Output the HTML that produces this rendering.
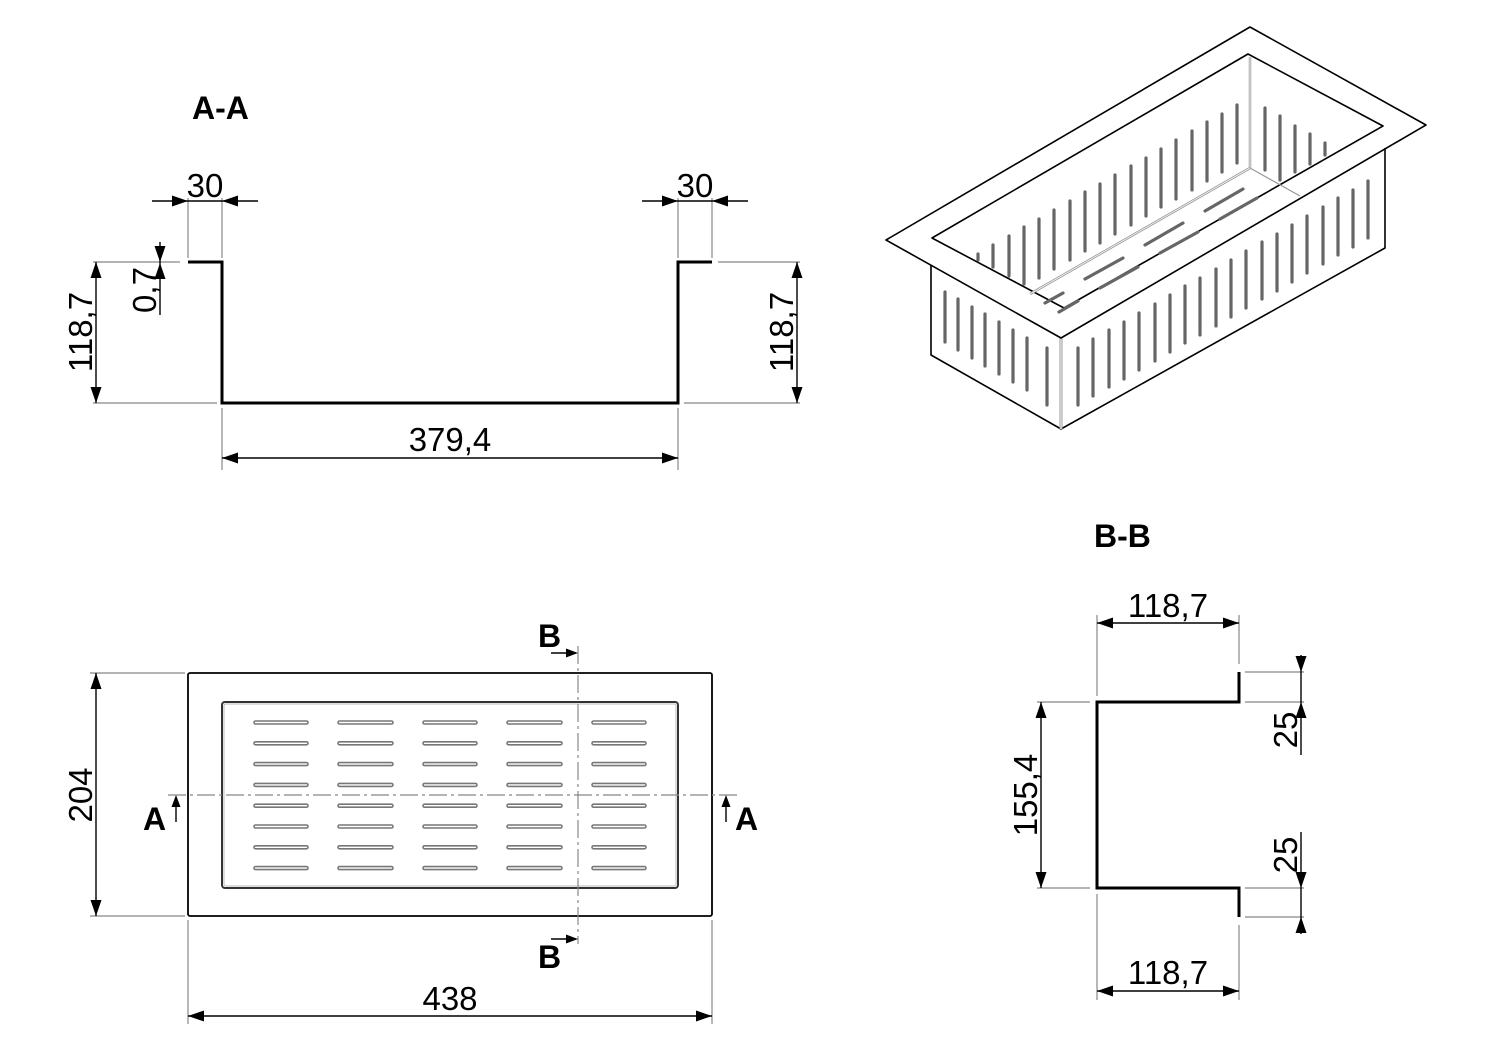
<!DOCTYPE html>
<html><head><meta charset="utf-8"><style>
html,body{margin:0;padding:0;background:#fff}
svg{display:block}
text{font-family:"Liberation Sans",Arial,sans-serif;fill:#000}
.t{font-size:33px}
.b{font-size:32px;font-weight:bold}
.ext{stroke:#888;stroke-width:1.2;fill:none}
.dim{stroke:#000;stroke-width:1.4;fill:none}
.prof{stroke:#000;stroke-width:3;fill:none}
.slot{stroke:#666;stroke-width:3.2;stroke-linecap:round}
.iso{stroke:#000;stroke-width:1.6;fill:none;stroke-linejoin:round}
.cl{stroke:#888;stroke-width:1.2;stroke-dasharray:18,4,3,4;fill:none}
</style></head><body>
<svg width="1500" height="1050" viewBox="0 0 1500 1050" xmlns="http://www.w3.org/2000/svg">
<defs>
<path id="ar" d="M0,0 L-16,-5.5 L-16,5.5 Z" fill="#000"/>
<path id="as" d="M0,0 L-12,-4.5 L-12,4.5 Z" fill="#000"/>
</defs>

<!-- ===== A-A ===== -->
<text class="b" x="192" y="119">A-A</text>
<path class="prof" d="M188,262 H222 V403 H678 V262 H712"/>
<line class="ext" x1="188" y1="198" x2="188" y2="258"/>
<line class="ext" x1="222" y1="198" x2="222" y2="258"/>
<line class="dim" x1="152" y1="201" x2="258" y2="201"/>
<text class="t" x="205" y="197" text-anchor="middle">30</text>
<line class="ext" x1="678" y1="198" x2="678" y2="258"/>
<line class="ext" x1="712" y1="198" x2="712" y2="258"/>
<line class="dim" x1="642" y1="201" x2="748" y2="201"/>
<text class="t" x="695" y="197" text-anchor="middle">30</text>
<line class="ext" x1="93" y1="262" x2="180" y2="262"/>
<line class="ext" x1="93" y1="403" x2="217" y2="403"/>
<line class="ext" x1="222" y1="408" x2="222" y2="470"/>
<line class="ext" x1="678" y1="408" x2="678" y2="470"/>
<line class="dim" x1="96" y1="262" x2="96" y2="403"/>
<text class="t" transform="translate(92,332) rotate(-90)" text-anchor="middle">118,7</text>
<line class="dim" x1="160" y1="242" x2="160" y2="315"/>
<text class="t" transform="translate(156,290) rotate(-90)" text-anchor="middle">0,7</text>
<line class="ext" x1="718" y1="262" x2="800" y2="262"/>
<line class="ext" x1="684" y1="403" x2="800" y2="403"/>
<line class="dim" x1="797" y1="262" x2="797" y2="403"/>
<text class="t" transform="translate(793,332) rotate(-90)" text-anchor="middle">118,7</text>
<line class="dim" x1="222" y1="458" x2="678" y2="458"/>
<text class="t" x="450" y="451" text-anchor="middle">379,4</text>

<!-- ===== Plan view ===== -->
<rect x="188" y="673" width="524" height="243" rx="2" fill="none" stroke="#000" stroke-width="1.8"/>
<rect x="222" y="702" width="456" height="186" rx="3" fill="none" stroke="#333" stroke-width="2"/>
<rect x="224" y="704" width="452" height="182" rx="2" fill="none" stroke="#bbb" stroke-width="1"/>
<g fill="none" stroke="#777" stroke-width="1.6">
<g id="row">
<rect x="254" y="721" width="54" height="3" rx="1.5"/>
<rect x="338" y="721" width="55" height="3" rx="1.5"/>
<rect x="423" y="721" width="54" height="3" rx="1.5"/>
<rect x="507" y="721" width="55" height="3" rx="1.5"/>
<rect x="592" y="721" width="54" height="3" rx="1.5"/>
</g>
<use href="#row" y="20.8"/><use href="#row" y="41.6"/><use href="#row" y="62.4"/>
<use href="#row" y="83.2"/><use href="#row" y="104"/><use href="#row" y="124.8"/><use href="#row" y="145.6"/>
</g>
<line class="cl" x1="168" y1="795" x2="740" y2="795"/>
<line class="cl" x1="578" y1="646" x2="578" y2="944"/>
<line class="dim" x1="176" y1="822" x2="176" y2="800"/>
<text class="b" x="143" y="830">A</text>
<line class="dim" x1="726" y1="822" x2="726" y2="800"/>
<text class="b" x="735" y="830">A</text>
<line class="dim" x1="551" y1="653" x2="572" y2="653"/>
<text class="b" x="538" y="647">B</text>
<line class="dim" x1="551" y1="939" x2="572" y2="939"/>
<text class="b" x="538" y="968">B</text>
<line class="ext" x1="90" y1="673" x2="185" y2="673"/>
<line class="ext" x1="90" y1="916" x2="185" y2="916"/>
<line class="dim" x1="96" y1="673" x2="96" y2="916"/>
<text class="t" transform="translate(92,795) rotate(-90)" text-anchor="middle">204</text>
<line class="ext" x1="188" y1="920" x2="188" y2="1024"/>
<line class="ext" x1="712" y1="920" x2="712" y2="1024"/>
<line class="dim" x1="188" y1="1016" x2="712" y2="1016"/>
<text class="t" x="450" y="1010" text-anchor="middle">438</text>

<!-- ===== B-B ===== -->
<text class="b" x="1094" y="547">B-B</text>
<path class="prof" d="M1239,672 V702 H1097 V888 H1239 V917"/>
<line class="ext" x1="1097" y1="615" x2="1097" y2="696"/>
<line class="ext" x1="1239" y1="615" x2="1239" y2="664"/>
<line class="ext" x1="1097" y1="894" x2="1097" y2="1000"/>
<line class="ext" x1="1239" y1="925" x2="1239" y2="1000"/>
<line class="dim" x1="1097" y1="623" x2="1239" y2="623"/>
<text class="t" x="1168" y="617" text-anchor="middle">118,7</text>
<line class="dim" x1="1097" y1="991" x2="1239" y2="991"/>
<text class="t" x="1168" y="984" text-anchor="middle">118,7</text>
<line class="ext" x1="1037" y1="702" x2="1090" y2="702"/>
<line class="ext" x1="1037" y1="888" x2="1090" y2="888"/>
<line class="dim" x1="1041" y1="702" x2="1041" y2="888"/>
<text class="t" transform="translate(1037,795) rotate(-90)" text-anchor="middle">155,4</text>
<line class="ext" x1="1245" y1="672" x2="1304" y2="672"/>
<line class="ext" x1="1245" y1="702" x2="1304" y2="702"/>
<line class="ext" x1="1245" y1="888" x2="1304" y2="888"/>
<line class="ext" x1="1245" y1="917" x2="1304" y2="917"/>
<line class="dim" x1="1301" y1="655" x2="1301" y2="755"/>
<text class="t" transform="translate(1297,730) rotate(-90)" text-anchor="middle">25</text>
<line class="dim" x1="1301" y1="832" x2="1301" y2="934"/>
<text class="t" transform="translate(1297,855) rotate(-90)" text-anchor="middle">25</text>

<!-- arrowheads -->
<use href="#ar" transform="translate(188,201)"/>
<use href="#ar" transform="translate(222,201) rotate(180)"/>
<use href="#ar" transform="translate(678,201)"/>
<use href="#ar" transform="translate(712,201) rotate(180)"/>
<use href="#ar" transform="translate(96,262) rotate(-90)"/>
<use href="#ar" transform="translate(96,403) rotate(90)"/>
<use href="#ar" transform="translate(160,262) rotate(90)"/>
<use href="#ar" transform="translate(160,263) rotate(-90)"/>
<use href="#ar" transform="translate(797,262) rotate(-90)"/>
<use href="#ar" transform="translate(797,403) rotate(90)"/>
<use href="#ar" transform="translate(222,458) rotate(180)"/>
<use href="#ar" transform="translate(678,458)"/>
<use href="#as" transform="translate(176,795) rotate(-90)"/>
<use href="#as" transform="translate(726,795) rotate(-90)"/>
<use href="#as" transform="translate(578,653)"/>
<use href="#as" transform="translate(578,939)"/>
<use href="#ar" transform="translate(96,673) rotate(-90)"/>
<use href="#ar" transform="translate(96,916) rotate(90)"/>
<use href="#ar" transform="translate(188,1016) rotate(180)"/>
<use href="#ar" transform="translate(712,1016)"/>
<use href="#ar" transform="translate(1097,623) rotate(180)"/>
<use href="#ar" transform="translate(1239,623)"/>
<use href="#ar" transform="translate(1097,991) rotate(180)"/>
<use href="#ar" transform="translate(1239,991)"/>
<use href="#ar" transform="translate(1041,702) rotate(-90)"/>
<use href="#ar" transform="translate(1041,888) rotate(90)"/>
<use href="#ar" transform="translate(1301,672) rotate(90)"/>
<use href="#ar" transform="translate(1301,702) rotate(-90)"/>
<use href="#ar" transform="translate(1301,888) rotate(90)"/>
<use href="#ar" transform="translate(1301,917) rotate(-90)"/>

<!-- ===== Isometric ===== -->
<g>
<path class="iso" d="M931,265 V355 L1061,429 L1385,248 V148"/>
<line x1="1061" y1="338" x2="1061" y2="429" stroke="#999" stroke-width="3"/>
<line x1="1061" y1="338" x2="1061" y2="429" stroke="#fff" stroke-width="1"/>
<path class="iso" d="M886,240 L1250,27 L1426,125 L1061,338 Z" fill="#fff"/>
<path class="iso" d="M932,238 L1248,54 L1383,126 L1064,308 Z" stroke-width="1.4"/>
<line x1="1250" y1="57" x2="1250" y2="168" stroke="#999" stroke-width="2.5"/>
<line x1="1250" y1="57" x2="1250" y2="168" stroke="#fff" stroke-width="0.8"/>
<line x1="1030" y1="294" x2="1250" y2="168" stroke="#999" stroke-width="2.5"/>
<line x1="1030" y1="294" x2="1250" y2="168" stroke="#fff" stroke-width="0.8"/>
<line x1="1250" y1="168" x2="1300" y2="196" stroke="#999" stroke-width="1.2"/>
<g class="slot">
<line x1="978" y1="254" x2="978" y2="260"/><line x1="993" y1="245" x2="993" y2="267"/>
<line x1="1009" y1="236" x2="1009" y2="276"/><line x1="1024" y1="227" x2="1024" y2="284"/>
<line x1="1039" y1="219" x2="1039" y2="278"/><line x1="1054" y1="210" x2="1054" y2="269"/>
<line x1="1070" y1="201" x2="1070" y2="260"/><line x1="1085" y1="192" x2="1085" y2="251"/>
<line x1="1100" y1="184" x2="1100" y2="243"/><line x1="1115" y1="175" x2="1115" y2="234"/>
<line x1="1131" y1="166" x2="1131" y2="225"/><line x1="1146" y1="158" x2="1146" y2="216"/>
<line x1="1161" y1="149" x2="1161" y2="207"/><line x1="1176" y1="140" x2="1176" y2="199"/>
<line x1="1192" y1="131" x2="1192" y2="190"/><line x1="1207" y1="122" x2="1207" y2="181"/>
<line x1="1222" y1="114" x2="1222" y2="172"/><line x1="1237" y1="105" x2="1237" y2="163"/>
<line x1="1265" y1="108" x2="1265" y2="170"/><line x1="1280" y1="116" x2="1280" y2="180"/>
<line x1="1295" y1="126" x2="1295" y2="172"/><line x1="1310" y1="134" x2="1310" y2="164"/>
<line x1="1325" y1="143" x2="1325" y2="155"/>
<line x1="1045" y1="303" x2="1063" y2="293"/><line x1="1085" y1="279" x2="1123" y2="258"/>
<line x1="1145" y1="245" x2="1183" y2="223"/><line x1="1205" y1="211" x2="1243" y2="189"/>
<line x1="1059" y1="312" x2="1078" y2="301"/><line x1="1100" y1="288" x2="1138" y2="267"/>
<line x1="1160" y1="253" x2="1198" y2="232"/><line x1="1220" y1="219" x2="1257" y2="198"/>
<line x1="945" y1="292" x2="945" y2="342"/><line x1="958" y1="299" x2="958" y2="350"/>
<line x1="972" y1="307" x2="972" y2="358"/><line x1="985" y1="314" x2="985" y2="366"/>
<line x1="999" y1="322" x2="999" y2="374"/><line x1="1013" y1="330" x2="1013" y2="382"/>
<line x1="1027" y1="338" x2="1027" y2="390"/><line x1="1047" y1="348" x2="1047" y2="405"/>
<line x1="1078" y1="348" x2="1078" y2="405"/><line x1="1093" y1="339" x2="1093" y2="396"/>
<line x1="1109" y1="330" x2="1109" y2="387"/><line x1="1124" y1="322" x2="1124" y2="379"/>
<line x1="1139" y1="313" x2="1139" y2="370"/><line x1="1155" y1="304" x2="1155" y2="361"/>
<line x1="1170" y1="295" x2="1170" y2="352"/><line x1="1185" y1="286" x2="1185" y2="343"/>
<line x1="1200" y1="278" x2="1200" y2="335"/><line x1="1216" y1="269" x2="1216" y2="326"/>
<line x1="1231" y1="260" x2="1231" y2="317"/><line x1="1246" y1="251" x2="1246" y2="308"/>
<line x1="1262" y1="242" x2="1262" y2="299"/><line x1="1277" y1="234" x2="1277" y2="291"/>
<line x1="1292" y1="225" x2="1292" y2="282"/><line x1="1307" y1="216" x2="1307" y2="273"/>
<line x1="1323" y1="207" x2="1323" y2="264"/><line x1="1338" y1="198" x2="1338" y2="255"/>
<line x1="1353" y1="190" x2="1353" y2="247"/><line x1="1368" y1="181" x2="1368" y2="238"/>
</g>
</g>
</svg>
</body></html>
